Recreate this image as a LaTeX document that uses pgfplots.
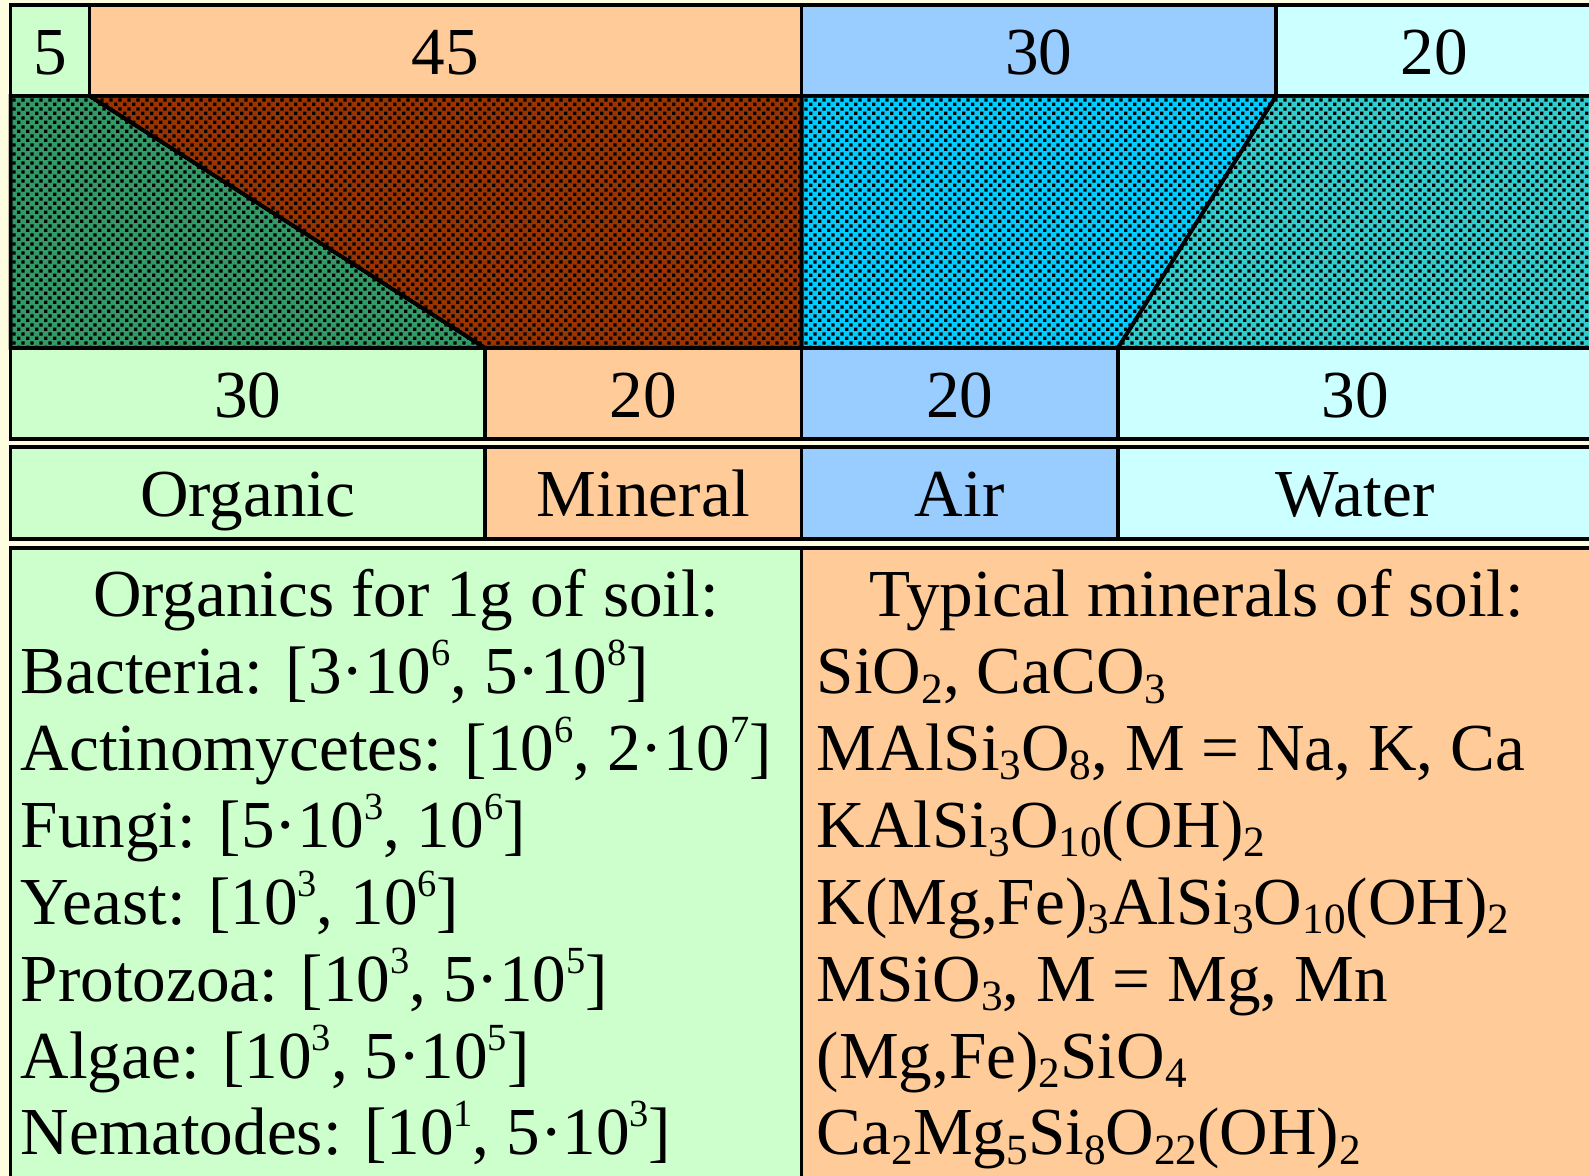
\documentclass[border=0pt]{standalone}
\usepackage{pgfplots}
\pgfplotsset{compat=1.18}
\usepackage{fontspec}
\setmainfont{Liberation Serif}
\usetikzlibrary{patterns.meta}
\definecolor{cream}{HTML}{FFFDE0}
\definecolor{lgreen}{HTML}{CCFFCC}
\definecolor{lorange}{HTML}{FFCC99}
\definecolor{lblue}{HTML}{99CCFF}
\definecolor{lcyan}{HTML}{CCFFFF}
\definecolor{pgreen}{HTML}{339966}
\definecolor{pbrown}{HTML}{993300}
\definecolor{pblue}{HTML}{00CCFF}
\definecolor{pteal}{HTML}{33CCCC}
\tikzdeclarepattern{name=soildots, type=uncolored,
  bottom left={(0pt,0pt)}, top right={(2.2pt,2.2pt)}, tile size={(2.2pt,2.2pt)},
  code={\fill (0pt,0pt) rectangle (0.85pt,0.85pt); \fill (1.1pt,1.1pt) rectangle (1.95pt,1.95pt);}}
\newcommand\fs{\fontsize{16.8}{19.2}\selectfont}
\newcommand\sups[1]{\raisebox{7.0pt}{\fontsize{9.6}{9.6}\selectfont #1}}
\newcommand\sub[1]{\raisebox{-2.3pt}{\fontsize{10.8}{10.8}\selectfont #1}}
\begin{document}
\begin{tikzpicture}
\begin{axis}[x=3.955pt, y=0.25pt, xmin=-0.664, xmax=99.78, ymin=0, ymax=1176,
  y dir=reverse, hide axis, clip=true,
  every axis plot/.append style={line width=0.875pt, line join=miter, draw=black}]
% background
\addplot[fill=cream, draw=none] coordinates {(-1,-10)(101,-10)(101,1200)(-1,1200)} -- cycle;
% top row: 5, 45, 30, 20
\addplot[fill=lgreen]  coordinates {(0,5)(5,5)(5,96)(0,96)} -- cycle;
\addplot[fill=lorange] coordinates {(5,5)(50,5)(50,96)(5,96)} -- cycle;
\addplot[fill=lblue]   coordinates {(50,5)(80,5)(80,96)(50,96)} -- cycle;
\addplot[fill=lcyan]   coordinates {(80,5)(100,5)(100,96)(80,96)} -- cycle;
% transition bands
\addplot[fill=pgreen, postaction={pattern={soildots}, pattern color=black}] coordinates {(0,96)(5,96)(30,348)(0,348)} -- cycle;
\addplot[fill=pbrown, postaction={pattern={soildots}, pattern color=black}] coordinates {(5,96)(50,96)(50,348)(30,348)} -- cycle;
\addplot[fill=pblue,  postaction={pattern={soildots}, pattern color=black}] coordinates {(50,96)(80,96)(70,348)(50,348)} -- cycle;
\addplot[fill=pteal,  postaction={pattern={soildots}, pattern color=black}] coordinates {(80,96)(100,96)(100,348)(70,348)} -- cycle;
% redraw dividing lines
\addplot[draw=black, no marks] coordinates {(5,96)(30,348)};
\addplot[draw=black, no marks] coordinates {(50,96)(50,348)};
\addplot[draw=black, no marks] coordinates {(80,96)(70,348)};
\addplot[draw=black, no marks] coordinates {(0,96)(0,348)};
% bottom row: 30, 20, 20, 30
\addplot[fill=lgreen]  coordinates {(0,348)(30,348)(30,439)(0,439)} -- cycle;
\addplot[fill=lorange] coordinates {(30,348)(50,348)(50,439)(30,439)} -- cycle;
\addplot[fill=lblue]   coordinates {(50,348)(70,348)(70,439)(50,439)} -- cycle;
\addplot[fill=lcyan]   coordinates {(70,348)(100,348)(100,439)(70,439)} -- cycle;
% label row
\addplot[fill=lgreen]  coordinates {(0,447)(30,447)(30,539)(0,539)} -- cycle;
\addplot[fill=lorange] coordinates {(30,447)(50,447)(50,539)(30,539)} -- cycle;
\addplot[fill=lblue]   coordinates {(50,447)(70,447)(70,539)(50,539)} -- cycle;
\addplot[fill=lcyan]   coordinates {(70,447)(100,447)(100,539)(70,539)} -- cycle;
% text boxes
\addplot[fill=lgreen]  coordinates {(0,548)(50,548)(50,1220)(0,1220)} -- cycle;
\addplot[fill=lorange] coordinates {(50,548)(100,548)(100,1220)(50,1220)} -- cycle;
% numbers
\node[anchor=base, font=\fs] at (axis cs:2.5,75) {5};
\node[anchor=base, font=\fs] at (axis cs:27.5,75) {45};
\node[anchor=base, font=\fs] at (axis cs:65,75) {30};
\node[anchor=base, font=\fs] at (axis cs:90,75) {20};
\node[anchor=base, font=\fs] at (axis cs:15,417.5) {30};
\node[anchor=base, font=\fs] at (axis cs:40,417.5) {20};
\node[anchor=base, font=\fs] at (axis cs:60,417.5) {20};
\node[anchor=base, font=\fs] at (axis cs:85,417.5) {30};
% labels
\node[anchor=base, font=\fs] at (axis cs:15,517) {Organic};
\node[anchor=base, font=\fs] at (axis cs:40,517) {Mineral};
\node[anchor=base, font=\fs] at (axis cs:60,517) {Air};
\node[anchor=base, font=\fs] at (axis cs:85,517) {Water};
% left text
\node[anchor=base, font=\fs] at (axis cs:25,617) {Organics for 1g of soil:};
\node[anchor=base west, font=\fs, inner sep=0pt] at (axis cs:0.6,693.9) {Bacteria: [3·10\sups{6}, 5·10\sups{8}]};
\node[anchor=base west, font=\fs, inner sep=0pt] at (axis cs:0.6,770.7) {Actinomycetes: [10\sups{6}, 2·10\sups{7}]};
\node[anchor=base west, font=\fs, inner sep=0pt] at (axis cs:0.6,847.6) {Fungi: [5·10\sups{3}, 10\sups{6}]};
\node[anchor=base west, font=\fs, inner sep=0pt] at (axis cs:0.6,924.4) {Yeast: [10\sups{3}, 10\sups{6}]};
\node[anchor=base west, font=\fs, inner sep=0pt] at (axis cs:0.6,1001.3) {Protozoa: [10\sups{3}, 5·10\sups{5}]};
\node[anchor=base west, font=\fs, inner sep=0pt] at (axis cs:0.6,1078.2) {Algae: [10\sups{3}, 5·10\sups{5}]};
\node[anchor=base west, font=\fs, inner sep=0pt] at (axis cs:0.6,1155) {Nematodes: [10\sups{1}, 5·10\sups{3}]};
% right text
\node[anchor=base, font=\fs] at (axis cs:75,617) {Typical minerals of soil:};
\node[anchor=base west, font=\fs, inner sep=0pt] at (axis cs:50.92,693.9) {SiO\sub{2}, CaCO\sub{3}};
\node[anchor=base west, font=\fs, inner sep=0pt] at (axis cs:50.92,770.7) {MAlSi\sub{3}O\sub{8}, M = Na, K, Ca};
\node[anchor=base west, font=\fs, inner sep=0pt] at (axis cs:50.92,847.6) {KAlSi\sub{3}O\sub{10}(OH)\sub{2}};
\node[anchor=base west, font=\fs, inner sep=0pt] at (axis cs:50.92,924.4) {K(Mg,Fe)\sub{3}AlSi\sub{3}O\sub{10}(OH)\sub{2}};
\node[anchor=base west, font=\fs, inner sep=0pt] at (axis cs:50.92,1001.3) {MSiO\sub{3}, M = Mg, Mn};
\node[anchor=base west, font=\fs, inner sep=0pt] at (axis cs:50.92,1078.2) {(Mg,Fe)\sub{2}SiO\sub{4}};
\node[anchor=base west, font=\fs, inner sep=0pt] at (axis cs:50.92,1155) {Ca\sub{2}Mg\sub{5}Si\sub{8}O\sub{22}(OH)\sub{2}};
\end{axis}
\pgfresetboundingbox
\path (current axis.south west) rectangle (current axis.north east);
\end{tikzpicture}
\end{document}
